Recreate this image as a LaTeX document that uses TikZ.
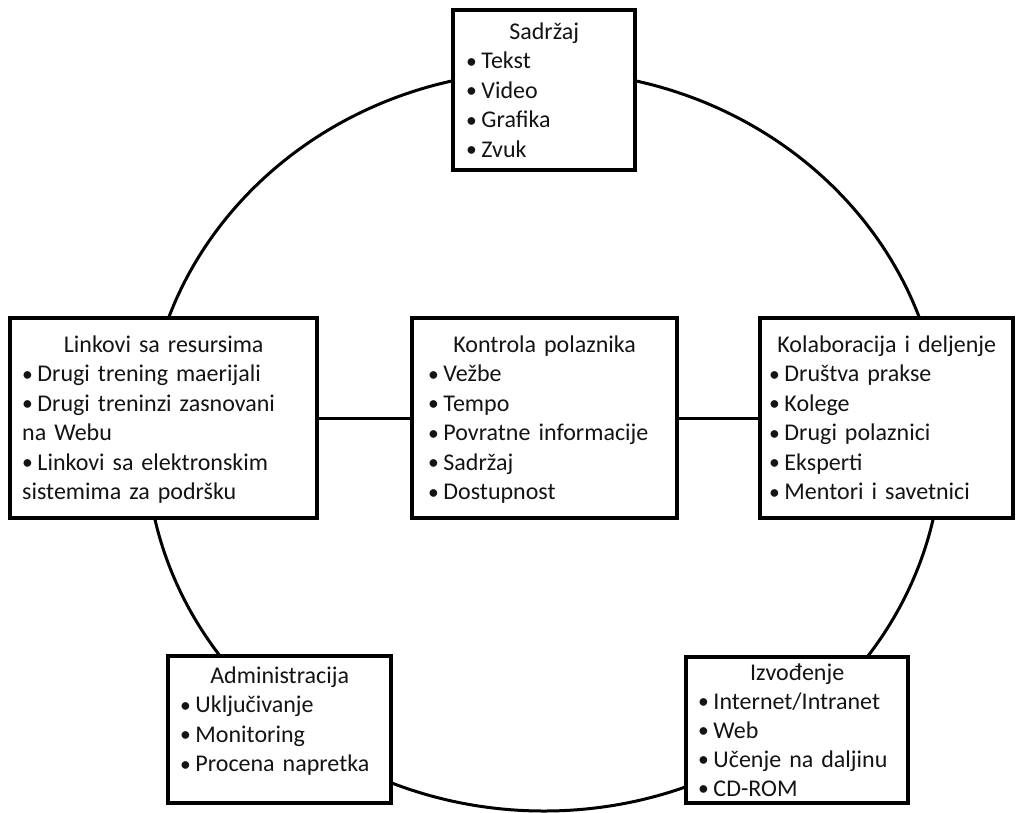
\documentclass[tikz,border=0pt]{standalone}
\usepackage{fontspec}
\setmainfont{Carlito}[WordSpace=0.75]
\newcommand\itm{\raisebox{0.5pt}{\scalebox{0.9}{•}}\hspace{4.5pt}}
\begin{document}
\begin{tikzpicture}[x=1pt,y=-1pt,
  box/.style={draw=black, line width=3.2pt, fill=white, inner sep=0pt},
  txt/.style={anchor=north west, inner sep=0pt, align=left, font=\fontsize{24}{29.5}\selectfont, text=black!92},
  conn/.style={line width=3pt},
  ring/.style={line width=3pt}]
\useasboundingbox (0,0) rectangle (1016,812);
\fill[white] (0,0) rectangle (1016,812);
% the ring
\draw[ring] (544,441) ellipse [x radius=398pt, y radius=370pt];
% boxes
\node[box, minimum width=182pt, minimum height=160pt] (sad) at (544,90) {};
\node[box, minimum width=307pt, minimum height=200pt] (link) at (163.5,418) {};
\node[box, minimum width=265pt, minimum height=200pt] (kon) at (544.5,418) {};
\node[box, minimum width=253pt, minimum height=200pt] (kol) at (886.5,418) {};
\node[box, minimum width=223pt, minimum height=147pt] (adm) at (279.5,729.5) {};
\node[box, minimum width=222pt, minimum height=146pt] (izv) at (797,730) {};
% connectors
\draw[conn] (link.east) -- (kon.west);
\draw[conn] (kon.east) -- (kol.west);
% texts
\node[txt, text width=156pt] (sadt) at (466,19) {\centering\rule{0pt}{20pt}Sadržaj\par\raggedright
  \itm Tekst\\\itm Video\\\itm Grafika\\\itm Zvuk};
\node[txt, text width=283pt] (linkt) at (22,332) {\centering\rule{0pt}{20pt}Linkovi sa resursima\par\raggedright
  \itm Drugi trening maerijali\\\itm Drugi treninzi zasnovani\\na Webu\\\itm Linkovi sa elektronskim\\sistemima za podršku};
\node[txt, text width=233pt] (kont) at (428,332) {\centering\rule{0pt}{20pt}Kontrola polaznika\par\raggedright
  \itm Vežbe\\\itm Tempo\\\itm Povratne informacije\\\itm Sadržaj\\\itm Dostupnost};
\node[txt, text width=235pt] (kolt) at (769,332) {\centering\rule{0pt}{20pt}Kolaboracija i deljenje\par\raggedright
  \itm Društva prakse\\\itm Kolege\\\itm Drugi polaznici\\\itm Eksperti\\\itm Mentori i savetnici};
\node[txt, text width=199pt] (admt) at (180,663) {\centering\rule{0pt}{20pt}Administracija\par\raggedright
  \itm Uključivanje\\\itm Monitoring\\\itm Procena napretka};
\node[txt, text width=198pt, font=\fontsize{24}{29}\selectfont] (izvt) at (698,660) {\centering\rule{0pt}{20pt}Izvođenje\par\raggedright
  \itm Internet/Intranet\\\itm Web\\\itm Učenje na daljinu\\\itm CD-ROM};
\end{tikzpicture}
\end{document}
